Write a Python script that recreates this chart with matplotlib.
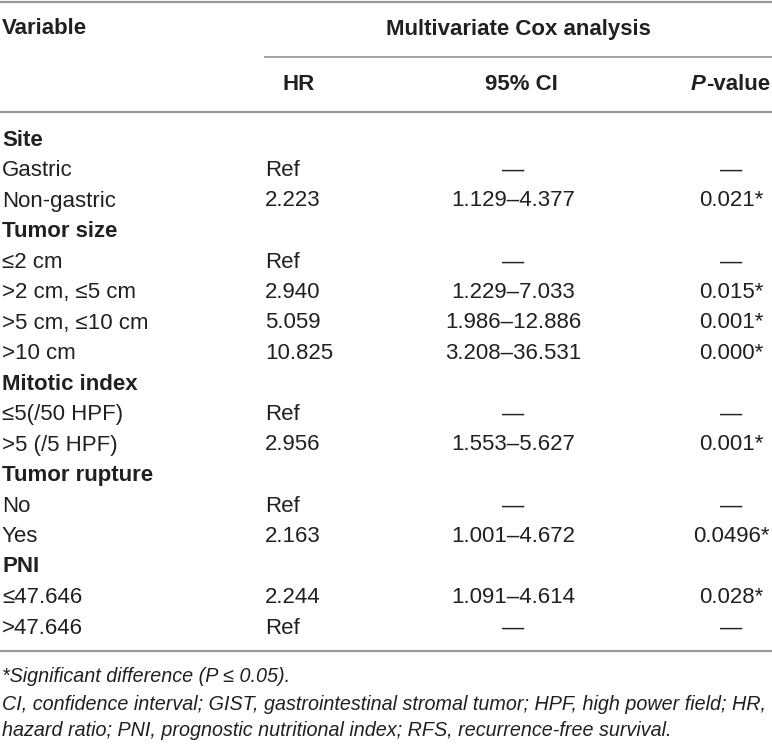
import matplotlib
matplotlib.use("Agg")
import matplotlib.pyplot as plt

# ---- data ----
variables = ["Site", "Gastric", "Non-gastric", "Tumor size", "≤2 cm", ">2 cm, ≤5 cm",
             ">5 cm, ≤10 cm", ">10 cm", "Mitotic index", "≤5(/50 HPF)", ">5 (/5 HPF)",
             "Tumor rupture", "No", "Yes", "PNI", "≤47.646", ">47.646"]
is_group = [True, False, False, True, False, False, False, False, True, False, False,
            True, False, False, True, False, False]
hr_values = ["", "Ref", "2.223", "", "Ref", "2.940", "5.059", "10.825", "", "Ref", "2.956",
             "", "Ref", "2.163", "", "2.244", "Ref"]
ci_values = ["", "—", "1.129–4.377", "", "—", "1.229–7.033", "1.986–12.886", "3.208–36.531",
             "", "—", "1.553–5.627", "", "—", "1.001–4.672", "", "1.091–4.614", "—"]
p_values = ["", "—", "0.021*", "", "—", "0.015*", "0.001*", "0.000*", "", "—", "0.001*",
            "", "—", "0.0496*", "", "0.028*", "—"]
header_top = ["Variable", "Multivariate Cox analysis"]
header_sub = ["HR", "95% CI", "P", "-value"]
footnotes = ["*Significant difference (P ≤ 0.05).",
             "CI, confidence interval; GIST, gastrointestinal stromal tumor; HPF, high power field; HR,",
             "hazard ratio; PNI, prognostic nutritional index; RFS, recurrence-free survival."]

W, H = 772, 744
fig = plt.figure(figsize=(W / 100, H / 100), dpi=100)
ax = fig.add_axes([0, 0, 1, 1])
ax.set_xlim(0, W)
ax.set_ylim(H, 0)
ax.axis("off")

FONT = "Liberation Sans"
TXT = "#231f20"
LINE = "#9a9a9a"
fs = 16.0

# lines
ax.plot([0, W], [2, 2], color=LINE, lw=1.6)
ax.plot([265, W], [56.5, 56.5], color=LINE, lw=1.3)
ax.plot([0, W], [112, 112], color=LINE, lw=1.6)
ax.plot([0, W], [651, 651], color=LINE, lw=1.6)

# headers
ax.text(2, 29, header_top[0], fontsize=fs, fontweight="bold", family=FONT, color=TXT,
        ha="left", va="center")
ax.text(518, 29, header_top[1], fontsize=fs, fontweight="bold", family=FONT, color=TXT,
        ha="center", va="center")
ax.text(299, 85, header_sub[0], fontsize=fs, fontweight="bold", family=FONT, color=TXT,
        ha="center", va="center")
ax.text(521, 85, header_sub[1], fontsize=fs, fontweight="bold", family=FONT, color=TXT,
        ha="center", va="center")
# "P-value": italic P + "-value", right edge at ~770
tv = ax.text(770, 85, header_sub[3], fontsize=fs, fontweight="bold", family=FONT, color=TXT,
             ha="right", va="center")
fig.canvas.draw()
bb = tv.get_window_extent(renderer=fig.canvas.get_renderer())
left_px = bb.x0  # display coords (pixels) == data x since axes spans figure
ax.text(left_px, 85, header_sub[2], fontsize=fs, fontweight="bold", style="italic",
        family=FONT, color=TXT, ha="right", va="center")

# body
y0, dy = 140, 30.5
for i, lab in enumerate(variables):
    y = y0 + i * dy
    ax.text(2, y, lab, fontsize=fs, fontweight="bold" if is_group[i] else "normal",
            family=FONT, color=TXT, ha="left", va="center")
    ax.text(265, y, hr_values[i], fontsize=fs, family=FONT, color=TXT, ha="left", va="center")
    ax.text(513, y, ci_values[i], fontsize=fs, family=FONT, color=TXT, ha="center", va="center")
    ax.text(731, y, p_values[i], fontsize=fs, family=FONT, color=TXT, ha="center", va="center")

# footnotes
for t, y in zip(footnotes, [676, 704, 731]):
    ax.text(2, y, t, fontsize=14.2, style="italic", family=FONT, color=TXT,
            ha="left", va="center")

fig.savefig("out.png", dpi=100)
